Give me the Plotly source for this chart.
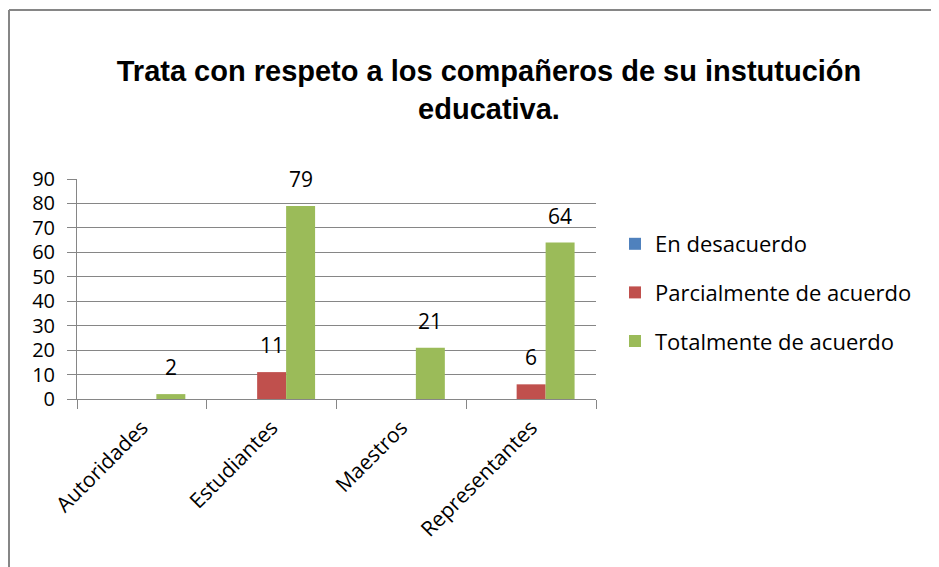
import plotly.graph_objects as go

categories = ["Autoridades", "Estudiantes", "Maestros", "Representantes"]
series_names = ["En desacuerdo", "Parcialmente de acuerdo", "Totalmente de acuerdo"]
en_desacuerdo = [0, 0, 0, 0]
parcialmente = [0, 11, 0, 6]
totalmente = [2, 79, 21, 64]
colors = ["#4F81BD", "#C0504D", "#9BBB59"]
y_ticks = [0, 10, 20, 30, 40, 50, 60, 70, 80, 90]
title_text = "Trata con respeto a los compañeros de su instutución<br>educativa."

# the page adds an 8px body margin, so the figure is sized/positioned to compensate
W, H = 931, 559
L, R, T, B = 69, 588, 171, 391
pw, ph = R - L, B - T
BARGAP = 0.33

def px_x(p):
    return (p - L) / pw

def px_y(p):
    return (B - p) / ph

FONT = "Open Sans, Lato, sans-serif"
FS = 21
GREY = "#868686"

all_series = [en_desacuerdo, parcialmente, totalmente]
fig = go.Figure()
for i, (name, vals) in enumerate(zip(series_names, all_series)):
    fig.add_trace(go.Bar(
        x=categories, y=vals, name=name,
        marker=dict(color=colors[i], line=dict(width=0)),
        legendgroup=name,
    ))

# data labels (non-zero values), floated above each bar like the original
bar_w = pw / len(categories) * (1 - BARGAP) / len(all_series)
annotations = []
for i, vals in enumerate(all_series):
    for cat, v in zip(categories, vals):
        if v:
            annotations.append(dict(
                x=cat, y=v, xref="x", yref="y", text=str(v), showarrow=False,
                xanchor="center", yanchor="bottom",
                xshift=(i - (len(all_series) - 1) / 2) * bar_w, yshift=11,
                font=dict(family=FONT, size=FS, color="#000000"),
            ))

fig.update_layout(
    width=W, height=H,
    margin=dict(l=L, r=W - R, t=T, b=H - B, pad=0),
    paper_bgcolor="white", plot_bgcolor="white",
    barmode="group", bargap=BARGAP, bargroupgap=0,
    font=dict(family=FONT, size=FS, color="#000000"),
    title=dict(text=title_text, x=481 / W, xanchor="center", xref="container",
               y=1 - 73 / H, yanchor="middle", yref="container",
               font=dict(family="Liberation Sans, Arial, sans-serif", size=29,
                         color="#000000", weight="bold")),
    legend=dict(x=px_x(607), y=px_y(215), xanchor="left", yanchor="top",
                xref="paper", yref="paper",
                font=dict(family=FONT, size=22, color="#000000"),
                traceorder="grouped", tracegroupgap=17, itemwidth=30,
                bgcolor="rgba(0,0,0,0)"),
    showlegend=True,
    annotations=annotations,
)
fig.update_xaxes(
    type="category", showline=True, linecolor=GREY, linewidth=1,
    ticks="outside", tickson="boundaries", ticklen=9, tickcolor=GREY,
    ticklabelstandoff=7,
    tickangle=-45, tickfont=dict(family=FONT, size=FS, color="#000000"),
    showgrid=False,
)
fig.update_yaxes(
    range=[0, 90], tickvals=y_ticks, showline=True, linecolor=GREY, linewidth=1,
    ticks="outside", ticklen=9, tickcolor=GREY, ticklabelstandoff=8,
    showgrid=True, gridcolor=GREY, gridwidth=1,
    tickfont=dict(family=FONT, size=20, color="#000000"),
    zeroline=False,
)

# chart outer border (left and top edges visible)
fig.add_shape(type="line", xref="paper", yref="paper",
              x0=px_x(1), x1=px_x(1), y0=px_y(2), y1=px_y(H + 5),
              line=dict(color=GREY, width=2))
fig.add_shape(type="line", xref="paper", yref="paper",
              x0=px_x(1), x1=px_x(W + 5), y0=px_y(2), y1=px_y(2),
              line=dict(color=GREY, width=2))

fig.write_html("out.html")
